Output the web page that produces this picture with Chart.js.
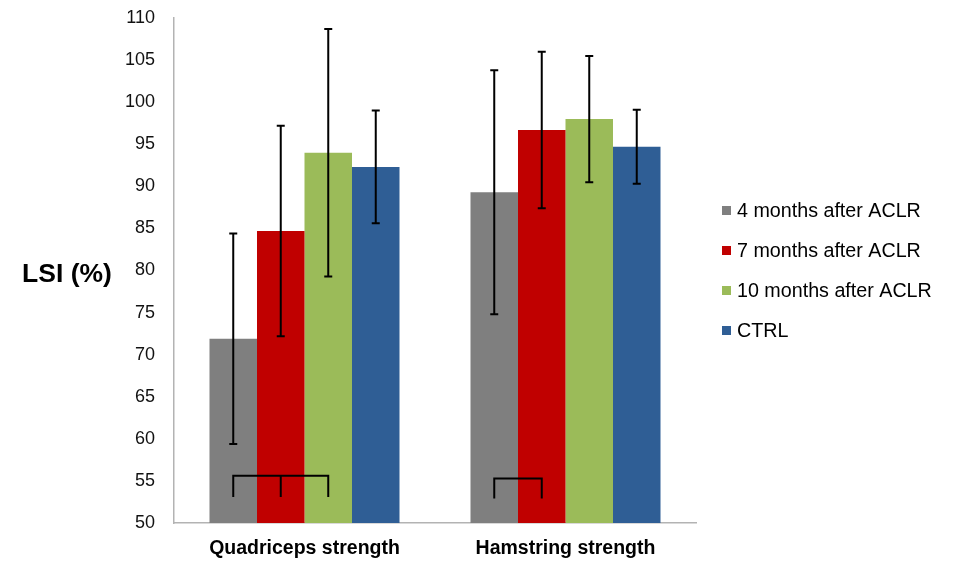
<!DOCTYPE html>
<html>
<head>
<meta charset="utf-8">
<script src="https://cdn.jsdelivr.net/npm/chart.js@4"></script>
<style>
  body { margin: 0; background: #fff; }
  #box { width: 954px; height: 566px; }
</style>
</head>
<body>
<div id="box"><canvas id="plot1"></canvas></div>
<script>
let categorias = ['Quadriceps strength', 'Hamstring strength'];
let series = ['4 months after ACLR', '7 months after ACLR', '10 months after ACLR', 'CTRL'];
let colores = ['#7f7f7f', '#c00000', '#9bbb59', '#2f5e95'];

let media4 = [71.9, 89.3];
let sd4 = [12.5, 14.5];
let media7 = [84.7, 96.7];
let sd7 = [12.5, 9.3];
let media10 = [94.0, 98.0];
let sd10 = [14.7, 7.5];
let mediaCtrl = [92.3, 94.7];
let sdCtrl = [6.7, 4.4];

let yTicks = [50, 55, 60, 65, 70, 75, 80, 85, 90, 95, 100, 105, 110];

// corchetes de significancia: grupo, series unidas, altura y fin de patas
let corcheteGrupo = [0, 1];
let corcheteSeries = [[0, 1, 2], [0, 1]];
let corcheteArriba = [55.6, 55.3];
let corcheteAbajo = [53.1, 52.9];

let medias = [media4, media7, media10, mediaCtrl];
let desvios = [sd4, sd7, sd10, sdCtrl];

let fuente = '"Liberation Sans", Arial, sans-serif';

let errorBars = {
  id: 'errorBars',
  afterDatasetsDraw(chart) {
    let ctx = chart.ctx;
    let y = chart.scales.y;
    ctx.save();
    ctx.strokeStyle = '#000';
    ctx.lineWidth = 2;
    medias.forEach((m, s) => {
      let meta = chart.getDatasetMeta(s);
      meta.data.forEach((bar, i) => {
        let top = y.getPixelForValue(m[i] + desvios[s][i]);
        let bot = y.getPixelForValue(m[i] - desvios[s][i]);
        ctx.beginPath();
        ctx.moveTo(bar.x, top);
        ctx.lineTo(bar.x, bot);
        ctx.moveTo(bar.x - 4, top);
        ctx.lineTo(bar.x + 4, top);
        ctx.moveTo(bar.x - 4, bot);
        ctx.lineTo(bar.x + 4, bot);
        ctx.stroke();
      });
    });
    // corchetes
    corcheteGrupo.forEach((g, k) => {
      let xs = corcheteSeries[k].map(s => chart.getDatasetMeta(s).data[g].x);
      let yt = y.getPixelForValue(corcheteArriba[k]);
      let yb = y.getPixelForValue(corcheteAbajo[k]);
      ctx.beginPath();
      ctx.moveTo(xs[0], yb);
      ctx.lineTo(xs[0], yt);
      ctx.lineTo(xs[xs.length - 1], yt);
      ctx.lineTo(xs[xs.length - 1], yb);
      for (let j = 1; j < xs.length - 1; j++) {
        ctx.moveTo(xs[j], yt);
        ctx.lineTo(xs[j], yb);
      }
      ctx.stroke();
    });
    ctx.restore();
  }
};

// titulo del eje y horizontal y leyenda a la derecha
let textos = {
  id: 'textos',
  afterDraw(chart) {
    let ctx = chart.ctx;
    let y = chart.scales.y;
    let area = chart.chartArea;
    let medio = (area.top + area.bottom) / 2;
    ctx.save();
    ctx.fillStyle = '#000';
    ctx.font = 'bold 26.5px ' + fuente;
    ctx.textAlign = 'center';
    ctx.textBaseline = 'middle';
    ctx.fillText('LSI (%)', y.left - 58, medio + 4);

    ctx.font = '19.7px ' + fuente;
    ctx.textAlign = 'left';
    chart.data.datasets.forEach((ds, i) => {
      let cy = medio - 60 + i * 40;
      ctx.fillStyle = ds.backgroundColor;
      ctx.fillRect(area.right + 26, cy - 4.5, 9, 9);
      ctx.fillStyle = '#000';
      ctx.fillText(ds.label, area.right + 41, cy + 1);
    });
    ctx.restore();
  }
};

let datasets = series.map((nombre, s) => ({
  label: nombre,
  data: medias[s],
  backgroundColor: colores[s],
  borderWidth: 0,
  barPercentage: 1,
  categoryPercentage: 0.728
}));

let config = {
  type: 'bar',
  data: { labels: categorias, datasets: datasets },
  options: {
    responsive: true,
    maintainAspectRatio: false,
    animation: false,
    layout: { padding: { left: 125, top: 18, bottom: 7, right: 258 } },
    plugins: {
      tooltip: { enabled: false },
      legend: { display: false }
    },
    scales: {
      x: {
        grid: { display: false, drawTicks: false },
        border: { display: true, color: '#b3b3b3', width: 1.5 },
        afterFit: (scale) => { scale.height = 36; scale.paddingLeft = 0; scale.paddingRight = 0; },
        ticks: {
          padding: 14,
          color: '#000',
          font: { family: fuente, size: 19.5, weight: 'bold' }
        }
      },
      y: {
        min: 50,
        max: 110,
        afterBuildTicks: (scale) => { scale.ticks = yTicks.map(v => ({ value: v })); },
        afterFit: (scale) => { scale.width = 49; scale.paddingTop = 0; scale.paddingBottom = 0; },
        grid: { display: false, drawTicks: false },
        border: { display: true, color: '#b3b3b3', width: 1.5 },
        ticks: {
          padding: 19,
          color: '#111',
          font: { family: fuente, size: 18 }
        }
      }
    }
  },
  plugins: [errorBars, textos]
};

new Chart(document.getElementById('plot1'), config);
</script>
</body>
</html>
